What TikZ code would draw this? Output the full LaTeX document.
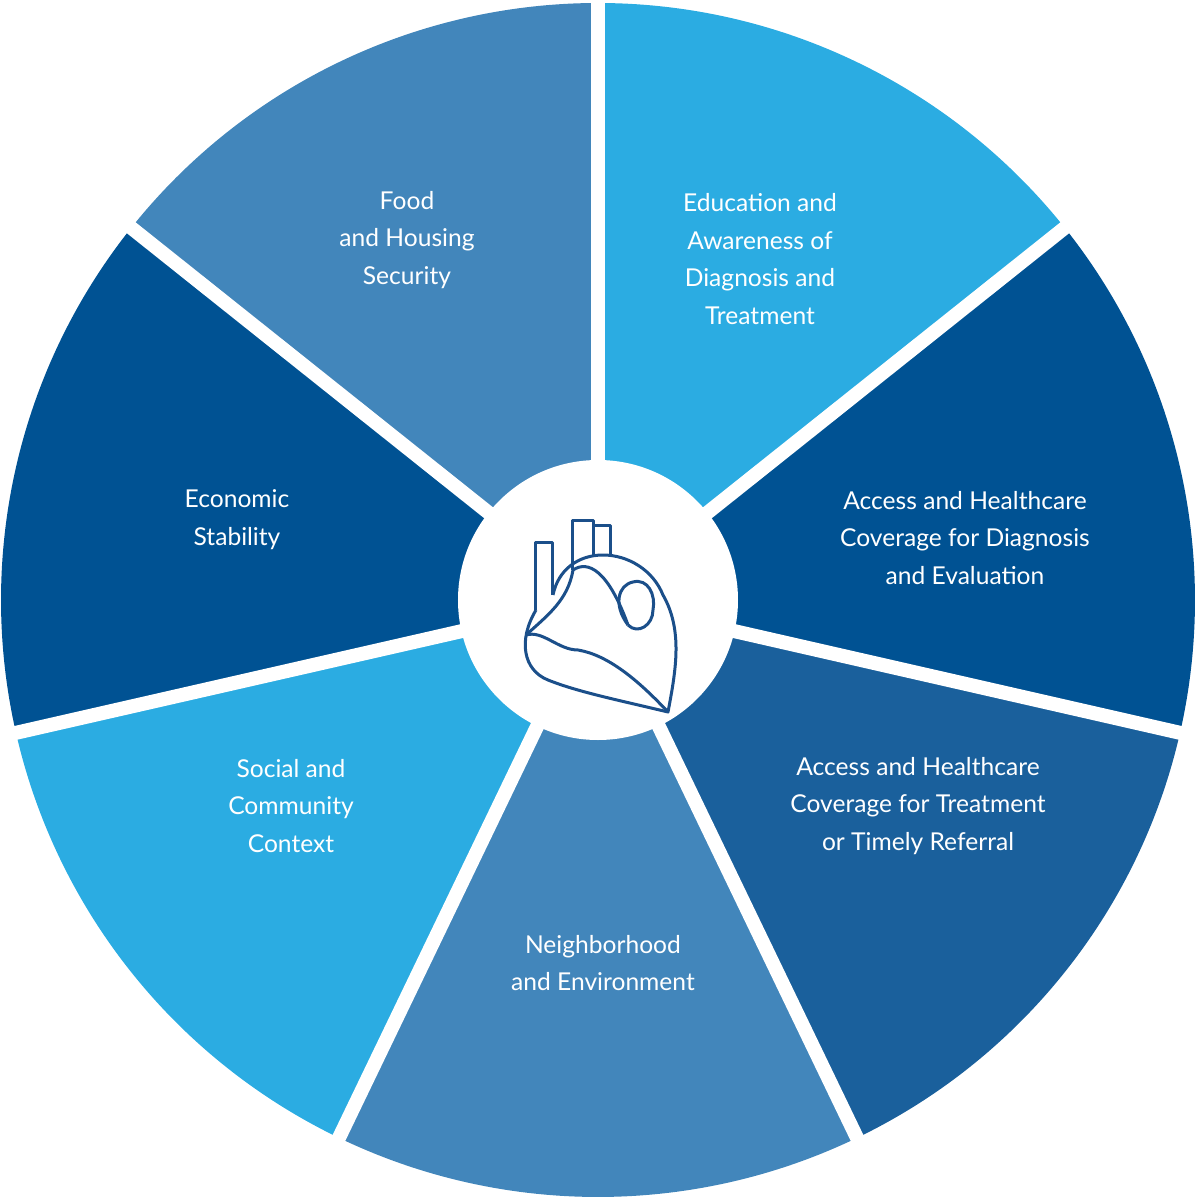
\documentclass[tikz,border=0pt]{standalone}
\usepackage{fontspec}
\setmainfont{Lato}
\definecolor{cmed}{RGB}{66,134,187}
\definecolor{clight}{RGB}{43,172,226}
\definecolor{cdark}{RGB}{0,82,147}
\definecolor{cdark2}{RGB}{26,96,156}
\definecolor{cheart}{RGB}{27,79,138}
\begin{document}
\begin{tikzpicture}[x=0.02cm,y=0.02cm,
  lbl/.style={text=white,align=center,font=\fontsize{14}{21.5}\selectfont}]
\useasboundingbox (-598,-597) rectangle (602,600);
\def\R{597}
\foreach \a/\c in {90/cmed,38.571/clight,-12.857/cdark,-64.286/cdark2,-115.714/cmed,-167.143/clight,141.429/cdark}{
  \fill[\c] (0,0) -- (\a:\R) arc[start angle=\a,delta angle=51.43,radius=\R] -- cycle;
}
\foreach \a in {90,38.571,-12.857,-64.286,-115.714,-167.143,141.429}
  \draw[white,line width=14*0.02cm] (0,0) -- (\a:\R+5);
\fill[white] (0,0) circle (140);
\begin{scope}[cheart,line width=3*0.02cm,line join=round]
 % vessels
 \draw (-45,5) -- (-45,58) -- (-62,58) -- (-62,-10);
 \draw (-25,30) -- (-25,80) -- (-5,80) -- (-5,45);
 \draw (-5,75) -- (12,75) -- (12,45);
 % body
 \draw (-62,-10) .. controls (-80,-40) and (-75,-70) .. (-50,-80)
   .. controls (-20,-92) and (20,-100) .. (70,-112)
   .. controls (78,-70) and (85,-30) .. (65,5)
   .. controls (55,30) and (30,45) .. (5,45)
   .. controls (-20,45) and (-40,30) .. (-45,5);
 \draw (-72,-35) .. controls (-50,-15) and (-30,0) .. (-25,30);
 \draw (-72,-35) .. controls (-55,-30) and (-40,-50) .. (-20,-50)
   .. controls (10,-55) and (40,-80) .. (70,-112);
 \draw (30,-25) .. controls (15,-5) and (20,15) .. (35,18)
   .. controls (50,22) and (58,5) .. (55,-10);
 \draw (30,-25) .. controls (40,-35) and (55,-25) .. (55,-10);
 \draw (-25,30) .. controls (-10,40) and (10,30) .. (30,-25);
\end{scope}
\node[lbl] (food) at (-191,360) {Food\\and Housing\\Security};
\node[lbl] (edu) at (162,341) {Education and\\Awareness of\\Diagnosis and\\Treatment};
\node[lbl] (adiag) at (367,62) {Access and Healthcare\\Coverage for Diagnosis\\and Evaluation};
\node[lbl] (atreat) at (320,-206) {Access and Healthcare\\Coverage for Treatment\\or Timely Referral};
\node[lbl] (neigh) at (5,-363) {Neighborhood\\and Environment};
\node[lbl] (soc) at (-307,-206) {Social and\\Community\\Context};
\node[lbl] (eco) at (-361,80) {Economic\\Stability};
\end{tikzpicture}
\end{document}
